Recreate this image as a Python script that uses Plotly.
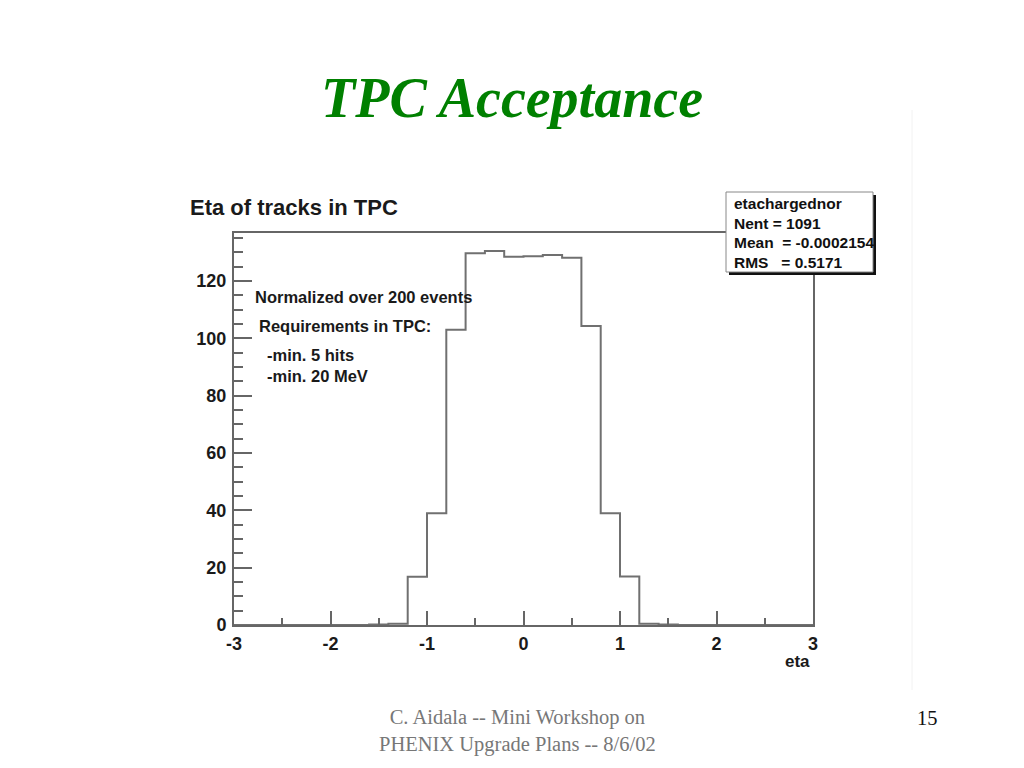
import plotly.graph_objects as go

# ---------------- data ----------------
bin_edges = [-3.0, -2.8, -2.6, -2.4, -2.2, -2.0, -1.8, -1.6, -1.4, -1.2,
             -1.0, -0.8, -0.6, -0.4, -0.2, 0.0, 0.2, 0.4, 0.6, 0.8,
             1.0, 1.2, 1.4, 1.6, 1.8, 2.0, 2.2, 2.4, 2.6, 2.8, 3.0]
counts = [0, 0, 0, 0, 0, 0, 0, 0.2, 0.4, 16.8,
          39.0, 103.0, 129.6, 130.4, 128.4, 128.6, 129.0, 128.1, 104.3, 39.0,
          16.9, 0.4, 0.2, 0, 0, 0, 0, 0, 0, 0]
x_tick_vals = [-3, -2, -1, 0, 1, 2, 3]
y_tick_vals = [0, 20, 40, 60, 80, 100, 120]
stats_lines = ["etachargednor", "Nent = 1091", "Mean  = -0.0002154", "RMS   = 0.5171"]
note_lines = ["Normalized over 200 events", "Requirements in TPC:", "-min. 5 hits", "-min. 20 MeV"]
note_x = [-2.80, -2.76, -2.68, -2.68]
note_y = [114.4, 104.2, 94.2, 86.8]

# ---------------- layout geometry (screen pixels) ----------------
W, H = 1024, 768
OFF = 8  # page body margin
SL, SR, ST, SB = 234, 813, 233, 625  # plot frame in screen pixels
L, R, T, B = SL - OFF, SR - OFF, ST - OFF, SB - OFF


def px(x):
    return (x - SL) / (SR - SL)


def py(y):
    return (SB - y) / (SB - ST)


SANS = "Liberation Sans, Arial, sans-serif"
SERIF = "Liberation Serif, Times New Roman, serif"
GRAY = "#707070"
TXT = "#1a1a1a"

fig = go.Figure()
fig.add_trace(go.Scatter(
    x=bin_edges,
    y=counts + [counts[-1]],
    mode="lines",
    line=dict(shape="hv", color=GRAY, width=2),
    hoverinfo="skip",
    showlegend=False,
))

annotations = []
annotations.append(dict(text="<b><i>TPC Acceptance</i></b>", x=px(512), y=py(98),
                        xref="paper", yref="paper", xanchor="center", yanchor="middle",
                        showarrow=False, font=dict(family=SERIF, size=56, color="#008000")))
annotations.append(dict(text="<b>Eta of tracks in TPC</b>", x=px(188), y=py(207),
                        xref="paper", yref="paper", xanchor="left", yanchor="middle",
                        showarrow=False, font=dict(family=SANS, size=22, color=TXT)))
annotations.append(dict(text="<b>eta</b>", x=px(812), y=py(661),
                        xref="paper", yref="paper", xanchor="right", yanchor="middle",
                        showarrow=False, font=dict(family=SANS, size=17, color=TXT)))
for t, xx, yy in zip(note_lines, note_x, note_y):
    annotations.append(dict(text="<b>" + t + "</b>", x=xx, y=yy, xref="x", yref="y",
                            xanchor="left", yanchor="middle", showarrow=False,
                            font=dict(family=SANS, size=16.5, color=TXT)))
stat_y = [203, 223, 242, 262]
for t, yy in zip(stats_lines, stat_y):
    annotations.append(dict(text="<b>" + t.replace(" ", "&nbsp;") + "</b>", x=px(732), y=py(yy),
                            xref="paper", yref="paper", xanchor="left", yanchor="middle",
                            showarrow=False, font=dict(family=SANS, size=15.5, color="#111111")))
annotations.append(dict(text="C. Aidala -- Mini Workshop on<br>PHENIX Upgrade Plans -- 8/6/02",
                        x=px(517), y=py(731), xref="paper", yref="paper",
                        xanchor="center", yanchor="middle", showarrow=False, align="center",
                        font=dict(family=SERIF, size=20.5, color="#777777")))
annotations.append(dict(text="15", x=px(927), y=py(718), xref="paper", yref="paper",
                        xanchor="center", yanchor="middle", showarrow=False,
                        font=dict(family=SERIF, size=20.5, color="#111111")))

shapes = [
    dict(type="line", xref="paper", yref="paper", x0=px(912), x1=px(912), y0=py(110), y1=py(690),
         line=dict(color="#f2f2f2", width=1), layer="below"),
    dict(type="rect", xref="paper", yref="paper", x0=px(729), x1=px(876), y0=py(195), y1=py(275),
         fillcolor="#111111", line=dict(width=0), layer="above"),
    dict(type="rect", xref="paper", yref="paper", x0=px(726), x1=px(873), y0=py(192), y1=py(272),
         fillcolor="white", line=dict(color="#888888", width=1), layer="above"),
]

fig.update_layout(
    width=W, height=H,
    margin=dict(l=L, r=W - R, t=T, b=H - B, autoexpand=False),
    paper_bgcolor="white", plot_bgcolor="white",
    showlegend=False,
    annotations=annotations,
    shapes=shapes,
    xaxis=dict(
        range=[-3, 3], tickvals=x_tick_vals, ticktext=[str(v) for v in x_tick_vals],
        ticks="inside", ticklen=14, tickwidth=1.5, tickcolor="#666666",
        minor=dict(dtick=0.5, tick0=0, ticks="inside", ticklen=7, tickwidth=1.5, tickcolor="#666666"),
        showgrid=False, zeroline=False,
        showline=True, linecolor="#666666", linewidth=2, mirror=True,
        tickfont=dict(family=SANS, size=18, color=TXT, weight="bold"),
        ticklabelstandoff=1,
    ),
    yaxis=dict(
        range=[0, 136.7], tickvals=y_tick_vals, ticktext=[str(v) for v in y_tick_vals],
        ticks="inside", ticklen=18, tickwidth=1.5, tickcolor="#666666",
        minor=dict(dtick=5, tick0=0, ticks="inside", ticklen=9, tickwidth=1.5, tickcolor="#666666"),
        showgrid=False, zeroline=False,
        showline=True, linecolor="#666666", linewidth=2, mirror=True,
        tickfont=dict(family=SANS, size=18, color=TXT, weight="bold"),
        ticklabelstandoff=2,
    ),
)

fig.write_html("out.html")
